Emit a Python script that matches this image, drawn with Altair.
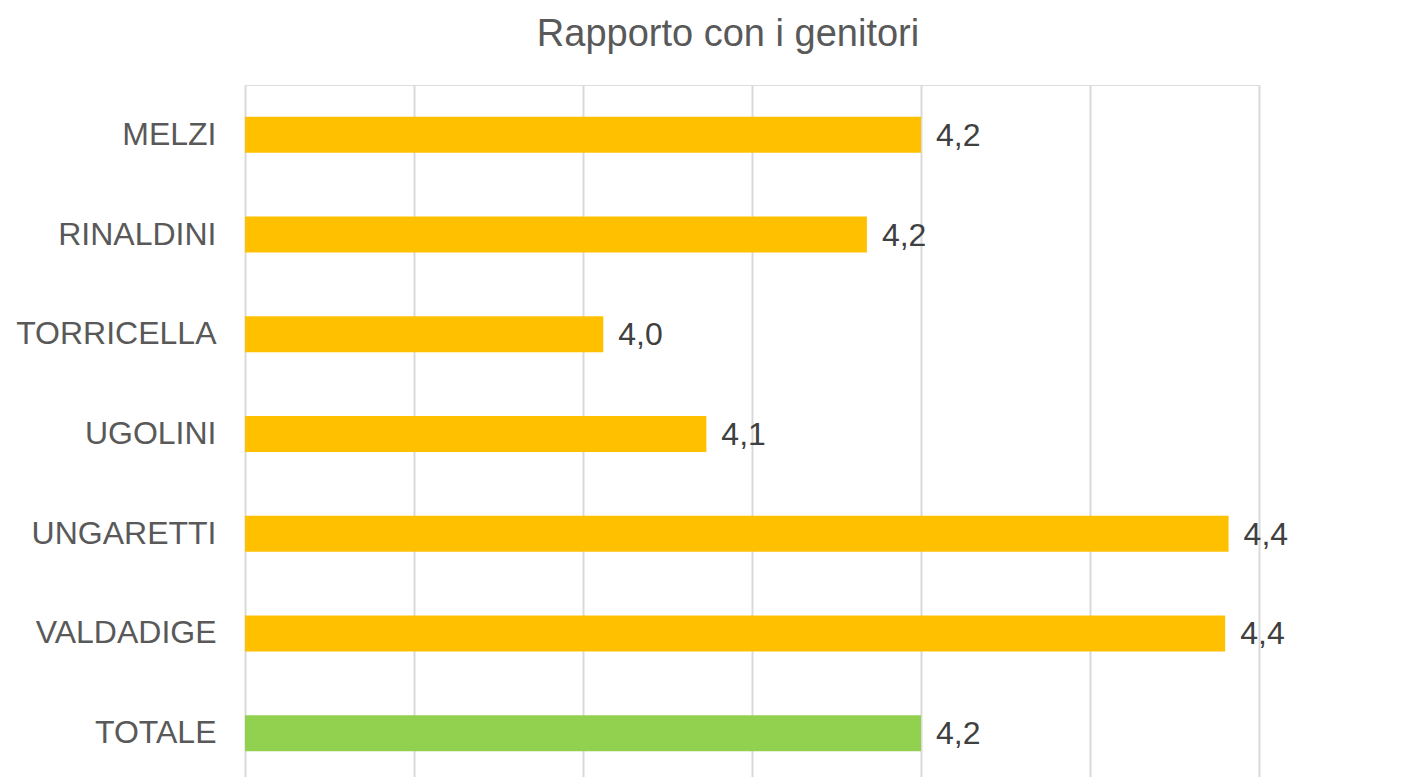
import altair as alt
import pandas as pd

scuole = ["MELZI", "RINALDINI", "TORRICELLA", "UGOLINI", "UNGARETTI", "VALDADIGE", "TOTALE"]
valori = [4.20, 4.168, 4.012, 4.073, 4.382, 4.380, 4.20]
griglia = [3.8, 3.9, 4.0, 4.1, 4.2, 4.3, 4.4]
base_x = 3.8

df = pd.DataFrame({"scuola": scuole, "valore": valori})

FONT = "Liberation Sans"

base = alt.Chart(df).encode(
    y=alt.Y("scuola:N", sort=scuole, title=None,
            scale=alt.Scale(paddingInner=0, paddingOuter=0),
            axis=alt.Axis(domain=False, ticks=False, labelPadding=29,
                          labelFont=FONT, labelFontSize=32, labelColor="#595959",
                          labelLimit=400)),
)

bars = base.mark_bar(size=36).encode(
    x=alt.X("valore:Q", title=None,
            scale=alt.Scale(domain=[3.8, 4.4], nice=False, zero=False),
            axis=alt.Axis(values=griglia, labels=False, ticks=False, domain=False,
                          grid=True, gridColor="#D9D9D9", gridWidth=2)),
    x2=alt.datum(base_x),
    color=alt.condition(alt.datum.scuola == "TOTALE", alt.value("#92D050"), alt.value("#FFC000")),
)

labels = base.transform_calculate(
    etichetta="replace(format(datum.valore, '.1f'), '.', ',')"
).mark_text(align="left", baseline="middle", dx=15, dy=1, font=FONT, fontSize=32,
            color="#404040").encode(
    x=alt.X("valore:Q"),
    text="etichetta:N",
)

chart = (bars + labels).properties(
    width=1014,
    height=698,
    title=alt.TitleParams("Rapporto con i genitori", font=FONT, fontSize=38,
                          fontWeight="normal", color="#595959", anchor="middle",
                          baseline="alphabetic", offset=0, dx=-24, dy=-1),
    autosize=alt.AutoSizeParams(type="none"),
    padding={"left": 237, "top": 77, "right": 140, "bottom": 0},
).configure_view(stroke=None).configure(background="white")

chart.save("out.html", embed_options={"renderer": "svg", "actions": False})
